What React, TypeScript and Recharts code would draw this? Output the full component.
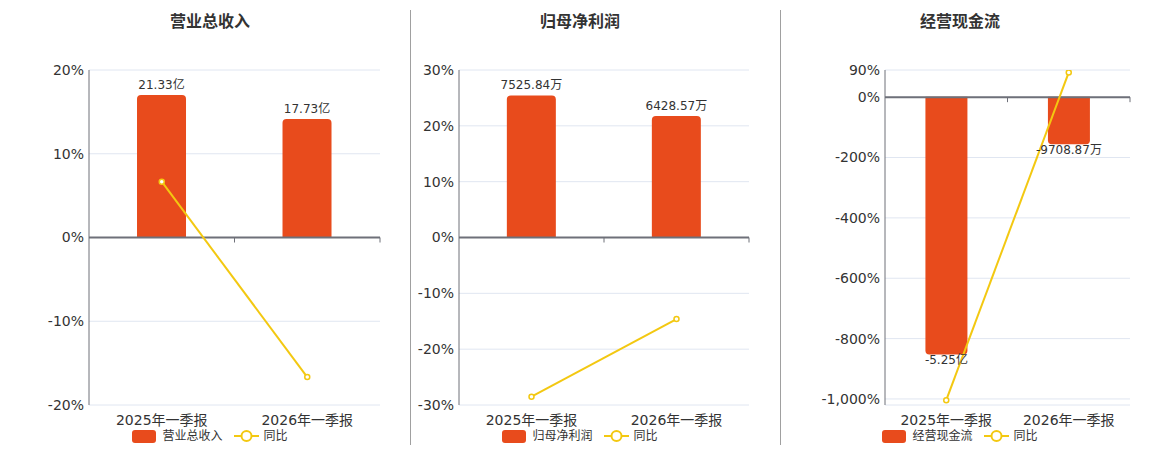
import {
  ComposedChart,
  Bar,
  Line,
  XAxis,
  YAxis,
  CartesianGrid,
  ReferenceLine,
  LabelList,
} from "recharts";

// ---------------------------------------------------------------------------
// Data
// ---------------------------------------------------------------------------
const categories = ["2025年一季报", "2026年一季报"];

const revenue = [21.33, 17.73]; // 亿
const revenueLabels = ["21.33亿", "17.73亿"];
const revenueYoy = [6.67, -16.67];
const revenueTicks = [-20, -10, 0, 10, 20];

const netProfit = [7525.84, 6428.57]; // 万
const netProfitLabels = ["7525.84万", "6428.57万"];
const netProfitYoy = [-28.5, -14.6];
const netProfitTicks = [-30, -20, -10, 0, 10, 20, 30];

const cashFlow = [-52500, -9708.87]; // 万
const cashFlowLabels = ["-5.25亿", "-9708.87万"];
const cashFlowYoy = [-1004, 82];
const cashFlowTicks = [-1000, -800, -600, -400, -200, 0, 90];

const BAR = "#e84b1c";
const YELLOW = "#f3c811";
const AXIS = "#6e7079";
const TEXT = "#333";
const FONT = '"DejaVu Sans", "Noto Sans CJK SC", sans-serif';

interface PanelProps {
  title: string;
  seriesName: string;
  values: number[];
  labels: string[];
  yoy: number[];
  ticks: number[];
  pctDomain: [number, number];
  amtDomain: [number, number];
  left: number;
  width: number;
  axisWidth: number;
  center: number;
  top: number;
  labelOffset: number;
}

function fmtPct(v: number) {
  return `${v.toLocaleString("en-US")}%`;
}

// ---------------------------------------------------------------------------
// Legend (HTML, under each chart)
// ---------------------------------------------------------------------------
function PanelLegend({ name, center }: { name: string; center: number }) {
  return (
    <div
      style={{
        position: "absolute",
        left: center - 150,
        width: 300,
        top: 428,
        display: "flex",
        justifyContent: "center",
        alignItems: "center",
        fontSize: 12,
        color: TEXT,
        fontFamily: FONT,
        lineHeight: "16px",
      }}
    >
      <span
        style={{
          display: "inline-block",
          width: 24,
          height: 13,
          borderRadius: 3,
          background: BAR,
          marginRight: 6,
        }}
      />
      <span style={{ marginRight: 11 }}>{name}</span>
      <svg width={25} height={14} style={{ marginRight: 5 }}>
        <line x1={0} y1={7} x2={25} y2={7} stroke={YELLOW} strokeWidth={2} />
        <circle cx={12.5} cy={7} r={5} fill="#fff" stroke={YELLOW} strokeWidth={2} />
      </svg>
      <span>同比</span>
    </div>
  );
}

// ---------------------------------------------------------------------------
// One panel
// ---------------------------------------------------------------------------
function Panel(p: PanelProps) {
  const data = categories.map((name, i) => ({
    name,
    value: p.values[i],
    label: p.labels[i],
    yoy: p.yoy[i],
  }));
  const plotH = 405 - p.top;
  const tickLen = ((p.pctDomain[1] - p.pctDomain[0]) * 5) / plotH;
  const last = categories[categories.length - 1];

  return (
    <>
      <div
        style={{
          position: "absolute",
          left: p.center - 100,
          width: 200,
          top: 12,
          textAlign: "center",
          fontSize: 16,
          fontWeight: "bold",
          color: TEXT,
          fontFamily: FONT,
          lineHeight: "20px",
        }}
      >
        {p.title}
      </div>
      <div style={{ position: "absolute", left: p.left, top: 0 }}>
        <ComposedChart
          width={p.width}
          height={450}
          data={data}
          margin={{ top: p.top, right: 20, bottom: 0, left: 0 }}
          barCategoryGap="33%"
          style={{ fontFamily: FONT }}
        >
          <CartesianGrid yAxisId="pct" vertical={false} stroke="#e0e6f1" />
          <XAxis
            dataKey="name"
            axisLine={false}
            tickLine={false}
            height={45}
            interval={0}
            tickMargin={4}
            tick={{ fill: TEXT, fontSize: 14 }}
          />
          <YAxis
            yAxisId="pct"
            width={p.axisWidth}
            domain={p.pctDomain}
            ticks={p.ticks}
            interval={0}
            allowDataOverflow
            tickFormatter={fmtPct}
            axisLine={{ stroke: AXIS }}
            tickLine={false}
            tickSize={0}
            tickMargin={5}
            tick={{ fill: TEXT, fontSize: 14 }}
          />
          <YAxis yAxisId="amt" orientation="right" hide domain={p.amtDomain} allowDataOverflow />
          <Bar
            yAxisId="amt"
            dataKey="value"
            fill={BAR}
            radius={[4, 4, 0, 0]}
            isAnimationActive={false}
          >
            <LabelList
              dataKey="label"
              position="top"
              offset={p.labelOffset}
              fill={TEXT}
              fontSize={12}
            />
          </Bar>
          <ReferenceLine yAxisId="pct" y={0} stroke={AXIS} strokeWidth={2} />
          <ReferenceLine
            yAxisId="pct"
            position="start"
            segment={[
              { x: last, y: 0 },
              { x: last, y: -tickLen },
            ]}
            stroke={AXIS}
          />
          <ReferenceLine
            yAxisId="pct"
            position="end"
            segment={[
              { x: last, y: 0 },
              { x: last, y: -tickLen },
            ]}
            stroke={AXIS}
          />
          <Line
            yAxisId="pct"
            dataKey="yoy"
            stroke={YELLOW}
            strokeWidth={2}
            dot={{ r: 2.5, fill: "#fff", stroke: YELLOW, strokeWidth: 1.5 }}
            isAnimationActive={false}
          />
        </ComposedChart>
      </div>
      <PanelLegend name={p.seriesName} center={p.center} />
    </>
  );
}

export default function App() {
  return (
    <div
      style={{
        position: "absolute",
        left: 0,
        top: 0,
        width: 1160,
        height: 450,
        background: "#fff",
        overflow: "hidden",
      }}
    >
      <Panel
        title="营业总收入"
        seriesName="营业总收入"
        values={revenue}
        labels={revenueLabels}
        yoy={revenueYoy}
        ticks={revenueTicks}
        pctDomain={[-20, 20]}
        amtDomain={[-25.07, 25.07]}
        left={0}
        width={400}
        axisWidth={89}
        center={210}
        top={70}
        labelOffset={6}
      />
      <Panel
        title="归母净利润"
        seriesName="归母净利润"
        values={netProfit}
        labels={netProfitLabels}
        yoy={netProfitYoy}
        ticks={netProfitTicks}
        pctDomain={[-30, 30]}
        amtDomain={[-8870, 8870]}
        left={410}
        width={359}
        axisWidth={49}
        center={580}
        top={70}
        labelOffset={6}
      />
      <Panel
        title="经营现金流"
        seriesName="经营现金流"
        values={cashFlow}
        labels={cashFlowLabels}
        yoy={cashFlowYoy}
        ticks={cashFlowTicks}
        pctDomain={[-1020, 90]}
        amtDomain={[-62800, 5440]}
        left={790}
        width={360}
        axisWidth={95}
        center={960}
        top={70}
        labelOffset={1}
      />
      <div style={{ position: "absolute", left: 410, top: 10, width: 1, height: 435, background: "#a0a0a0" }} />
      <div style={{ position: "absolute", left: 780, top: 10, width: 1, height: 435, background: "#a0a0a0" }} />
    </div>
  );
}
